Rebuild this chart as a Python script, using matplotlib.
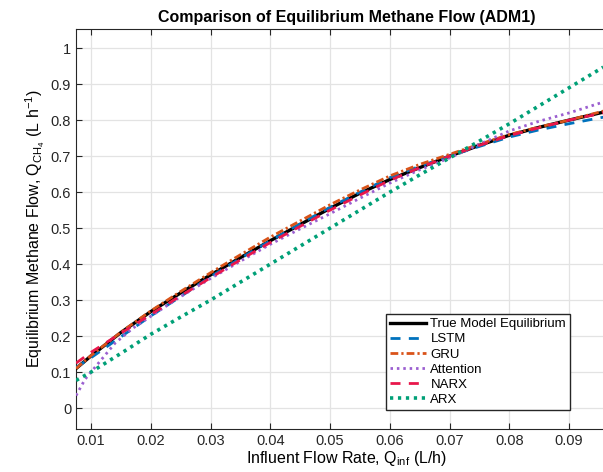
import matplotlib
matplotlib.use("Agg")
import matplotlib.pyplot as plt
from matplotlib.ticker import FuncFormatter

plt.rcParams['font.family'] = ['Liberation Sans', 'DejaVu Sans']
plt.rcParams['mathtext.fontset'] = 'custom'
plt.rcParams['mathtext.rm'] = 'Liberation Sans'
plt.rcParams['mathtext.it'] = 'Liberation Sans'

x = [0.0075, 0.01, 0.015, 0.02, 0.025, 0.03, 0.035, 0.04, 0.045, 0.05,
     0.055, 0.06, 0.065, 0.07, 0.075, 0.08, 0.085, 0.09, 0.0957]
true_eq = [0.11, 0.145, 0.21, 0.268, 0.32, 0.37, 0.418, 0.465, 0.51, 0.555,
           0.597, 0.635, 0.668, 0.70, 0.73, 0.758, 0.78, 0.80, 0.822]
lstm = [0.113, 0.14, 0.198, 0.256, 0.31, 0.365, 0.416, 0.465, 0.512, 0.558,
        0.60, 0.64, 0.672, 0.70, 0.727, 0.753, 0.773, 0.79, 0.808]
gru = [0.11, 0.146, 0.211, 0.27, 0.324, 0.376, 0.426, 0.475, 0.52, 0.565,
       0.606, 0.645, 0.677, 0.705, 0.733, 0.76, 0.781, 0.80, 0.825]
narx = [0.125, 0.155, 0.208, 0.26, 0.312, 0.362, 0.412, 0.46, 0.505, 0.55,
        0.592, 0.633, 0.668, 0.70, 0.73, 0.757, 0.779, 0.80, 0.82]
arx = [0.077, 0.10, 0.152, 0.205, 0.253, 0.30, 0.35, 0.40, 0.45, 0.50,
       0.55, 0.60, 0.648, 0.695, 0.742, 0.79, 0.84, 0.89, 0.947]
x_att = [0.0075, 0.009, 0.0107, 0.014, 0.017, 0.02, 0.025, 0.03, 0.035, 0.04, 0.045,
         0.05, 0.055, 0.06, 0.065, 0.07, 0.075, 0.08, 0.085, 0.09, 0.0957]
attention = [0.035, 0.08, 0.114, 0.18, 0.222, 0.255, 0.31, 0.36, 0.408, 0.455, 0.498,
             0.54, 0.583, 0.625, 0.662, 0.695, 0.733, 0.77, 0.797, 0.82, 0.85]

xticks = [0.01, 0.02, 0.03, 0.04, 0.05, 0.06, 0.07, 0.08, 0.09]
yticks = [0, 0.1, 0.2, 0.3, 0.4, 0.5, 0.6, 0.7, 0.8, 0.9, 1.0]

fig = plt.figure(figsize=(6.03, 4.72), dpi=100)
ax = fig.add_axes([76/603, 43/472, (617 - 76)/603, 400/472])

ax.plot(x, true_eq, color='black', lw=2.4, label='True Model Equilibrium', zorder=3)
ax.plot(x, lstm, color='#0072BD', lw=2.0, dashes=(3.6, 3.0), label='LSTM', zorder=4)
ax.plot(x, gru, color='#D95319', lw=2.0, dashes=(2.8, 1.1, 0.8, 1.1), label='GRU', zorder=4)
ax.plot(x_att, attention, color='#9B5FD0', lw=2.0, dashes=(0.9, 1.4), label='Attention', zorder=4)
ax.plot(x, narx, color='#E8174B', lw=2.0, dashes=(3.6, 3.0), label='NARX', zorder=4)
ax.plot(x, arx, color='#00A077', lw=2.6, dashes=(0.9, 1.3), label='ARX', zorder=4)

ax.set_xlim(0.00749, 0.0980)
ax.set_ylim(-0.058, 1.053)
ax.set_xticks(xticks)
ax.set_yticks(yticks)
ax.xaxis.set_major_formatter(FuncFormatter(lambda v, p: f'{v:g}'))
ax.yaxis.set_major_formatter(FuncFormatter(lambda v, p: f'{v:g}'))
ax.tick_params(direction='in', top=True, right=True, labelsize=10.5, length=4, colors='#262626')
ax.grid(True, color='#e3e3e3', lw=0.9)
ax.set_axisbelow(True)
for s in ax.spines.values():
    s.set_color('#262626')

ax.set_title('Comparison of Equilibrium Methane Flow (ADM1)', fontsize=11.5, fontweight='bold', pad=5)
ax.set_xlabel('Influent Flow Rate, $\\mathregular{Q_{inf}}$ (L/h)', fontsize=11.5, labelpad=1)
ax.set_ylabel('Equilibrium Methane Flow, $\\mathregular{Q_{CH_4}}$ (L $\\mathregular{h^{-1}}$)', fontsize=11.5, labelpad=3)

leg = ax.legend(loc='lower right', bbox_to_anchor=(570/603, 62/472), bbox_transform=fig.transFigure,
                fontsize=9.5, handlelength=2.8, handletextpad=0.3, labelspacing=0.22,
                borderpad=0.3, fancybox=False, framealpha=1, edgecolor='#262626', borderaxespad=0)
leg.get_frame().set_linewidth(1.0)

fig.savefig('out.png', dpi=100)
